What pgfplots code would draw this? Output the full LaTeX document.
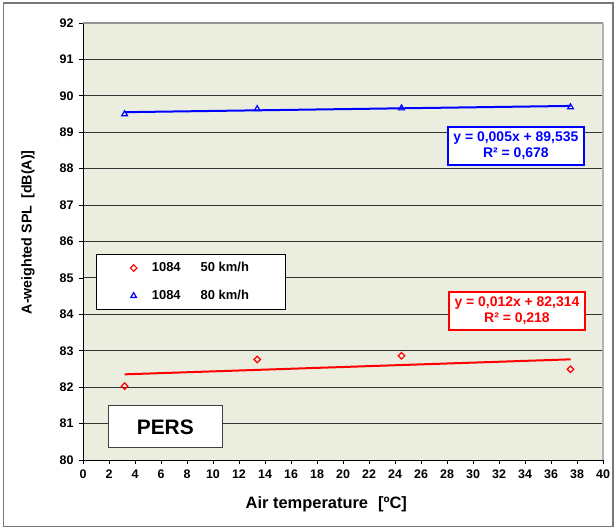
\documentclass[border=0pt]{standalone}
\usepackage{fontspec}
\setmainfont{Liberation Sans}
\usepackage{pgfplots}
\pgfplotsset{compat=1.18}
\definecolor{bgc}{RGB}{235,238,222}
\definecolor{frm}{RGB}{120,120,120}
\begin{document}
\begin{tikzpicture}
\useasboundingbox (0,0) rectangle (616bp,529bp);
\draw[frm, line width=1.5bp] (3.5bp,2.5bp) rectangle (613bp,526bp);
\begin{axis}[
  at={(83bp,69bp)}, anchor=south west,
  scale only axis, width=520bp, height=437bp,
  xmin=0, xmax=40, ymin=80, ymax=92,
  xtick distance=2, ytick distance=1,
  axis x line*=bottom, axis y line*=left,
  axis line style={black, line width=0.9bp},
  tick align=outside, major tick length=4bp,
  tick style={black, line width=0.8bp},
  ymajorgrids, grid style={black!80, line width=0.9bp},
  axis background/.style={fill=bgc},
  /pgf/number format/assume math mode=true,
  xticklabel={\textbf{\pgfmathprintnumber{\tick}}},
  yticklabel={\textbf{\pgfmathprintnumber{\tick}}},
  tick label style={font=\bfseries\fontsize{12.5}{14}\selectfont},
  yticklabel style={xshift=-2bp},
  xticklabel style={yshift=-2bp},
  clip=false,
  legend style={at={(0.025,0.471)}, anchor=north west, draw=black, line width=0.8bp, fill=white,
    font=\bfseries\fontsize{13}{15}\selectfont, inner xsep=34bp, inner ysep=6bp, row sep=13bp,
    column sep=13bp},
  legend cell align=left,
]
\draw[frm!80, line width=1.5bp] (rel axis cs:0,1) -- (rel axis cs:1,1);
\draw[black!30, line width=2bp] (rel axis cs:1,1) -- (rel axis cs:1,0);
\addplot[only marks, red, mark=square, mark size=2.3bp, mark options={rotate=45, line width=1.2bp, fill=white}]
  coordinates {(3.2,82.03) (13.4,82.76) (24.5,82.86) (37.5,82.49)};
\addlegendentry{1084\hspace{20bp}50 km/h}
\addplot[only marks, blue, mark=triangle, mark size=3.3bp, mark options={line width=1.2bp, fill=white}]
  coordinates {(3.2,89.50) (13.4,89.64) (24.5,89.66) (37.5,89.69)};
\addlegendentry{1084\hspace{20bp}80 km/h}
\addplot[forget plot, blue, line width=2bp] coordinates {(3.2,89.551) (37.5,89.7225)};
\addplot[forget plot, red, line width=2bp] coordinates {(3.2,82.352) (37.5,82.764)};
\node[draw=blue, line width=2bp, fill=white, text=blue, align=center, minimum width=136bp, minimum height=38bp, inner sep=0.5bp,
  font=\bfseries\fontsize{14}{16}\selectfont] at (axis cs:33.3,88.62) {y = 0,005x + 89,535\\R² = 0,678};
\node[draw=red, line width=2bp, fill=white, text=red, align=center, minimum width=136bp, minimum height=38bp, inner sep=0.5bp,
  font=\bfseries\fontsize{14}{16}\selectfont] at (axis cs:33.38,84.09) {y = 0,012x + 82,314\\R² = 0,218};
\node[draw=black!75, line width=1bp, fill=white, minimum width=114bp, minimum height=42bp, inner sep=0pt,
  font=\bfseries\fontsize{21}{24}\selectfont] at (axis cs:6.33,80.91) {PERS};
\node[font=\bfseries\fontsize{16.5}{19}\selectfont] at (axis description cs:0.468,-0.101) {Air temperature\hspace{10bp}[ºC]};
\node[rotate=90, font=\bfseries\fontsize{14.3}{17}\selectfont] at (axis description cs:-0.106,0.521) {A-weighted SPL\hspace{7bp}[dB(A)]};
\end{axis}
\end{tikzpicture}
\end{document}
